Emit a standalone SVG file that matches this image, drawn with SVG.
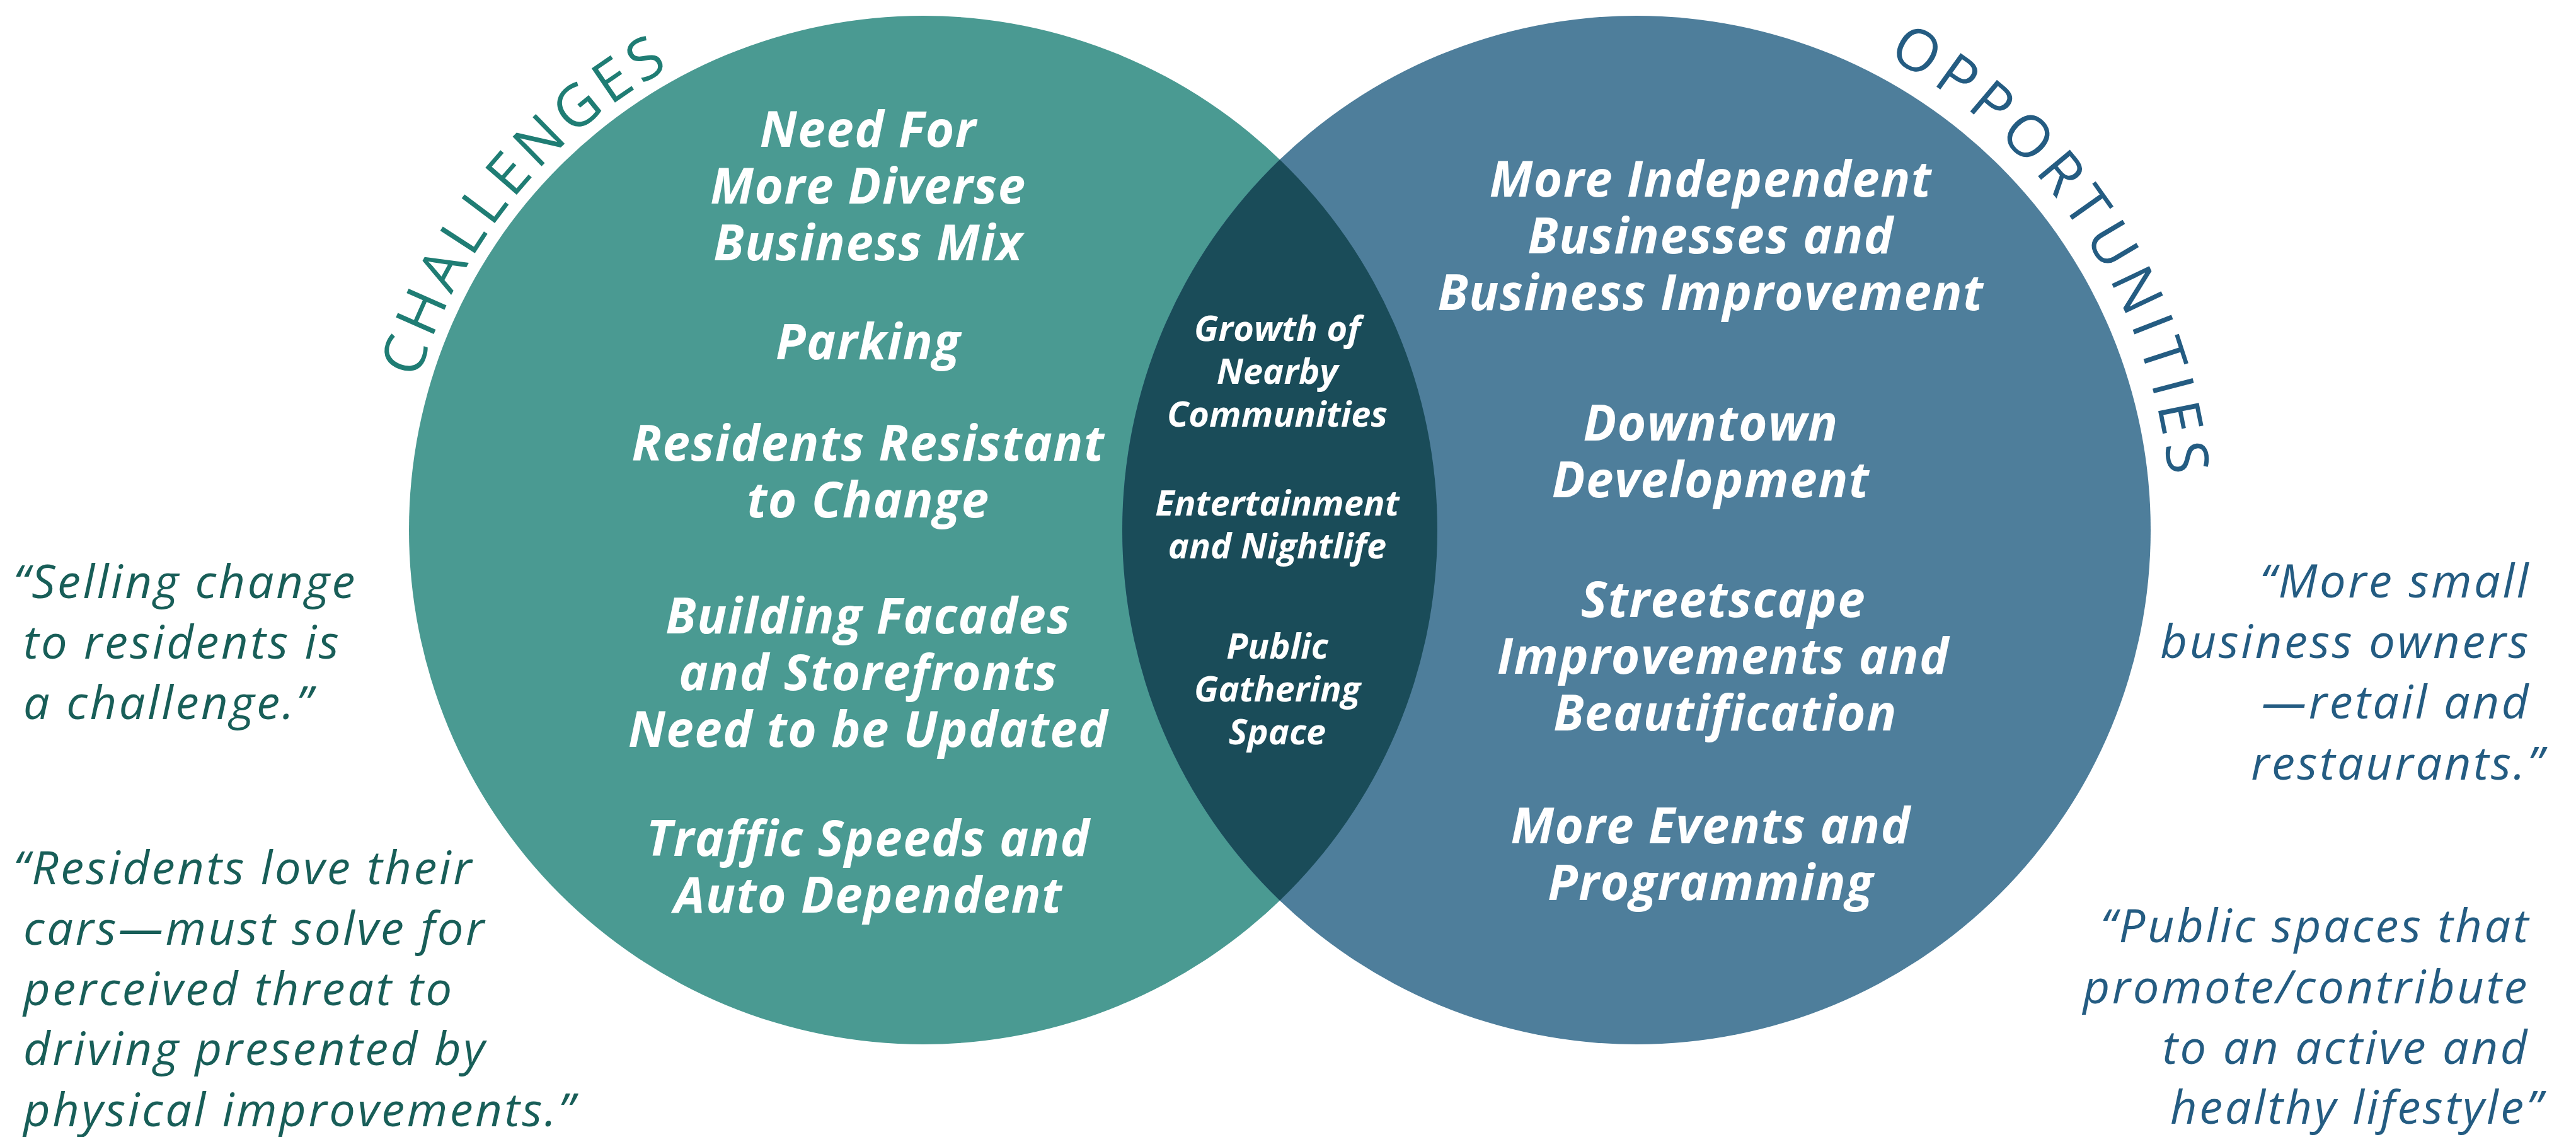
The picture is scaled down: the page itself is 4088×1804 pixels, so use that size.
<svg xmlns="http://www.w3.org/2000/svg" width="4088" height="1804" viewBox="0 0 4088 1804">
  <defs>
    <style>
      .main { font-family: "Open Sans", "Noto Sans", sans-serif; font-style: italic; font-weight: 700; font-size: 78px; letter-spacing: 1.5px; fill: #ffffff; text-anchor: middle; }
      .lens { font-family: "Open Sans", "Noto Sans", sans-serif; font-style: italic; font-weight: 700; font-size: 56px; fill: #ffffff; text-anchor: middle; }
      .quote { font-family: "Open Sans", "Noto Sans", sans-serif; font-style: italic; font-weight: 400; font-size: 74px; letter-spacing: 3.6px; }
      .q-left { fill: #185e58; }
      .q-right { fill: #245c82; text-anchor: end; }
      .arc-title { font-family: "Open Sans", "Noto Sans", sans-serif; font-weight: 400; font-size: 92px; }
    </style>
    <!-- baselines for the curved headings, concentric with each circle -->
    <path id="arc-challenges" d="M683.5,1137.9 A836,836 0 0 1 1598.7,15.8" fill="none"/>
    <path id="arc-opportunities" d="M2543.7,-6.3 A849,849 0 0 1 3357.5,1218.5" fill="none"/>
  </defs>

  <rect width="4088" height="1804" fill="#ffffff"/>

  <!-- Challenges circle -->
  <g id="challenges">
    <circle cx="1465" cy="841" r="816" fill="#4a9a92"/>
  </g>

  <!-- Opportunities circle -->
  <g id="opportunities">
    <circle cx="2597" cy="841" r="816" fill="#4e7e9b"/>
  </g>

  <!-- Shared region of the two circles -->
  <g id="overlap">
    <path d="M2031,253.2 A816,816 0 0 1 2031,1428.8 A816,816 0 0 1 2031,253.2 Z" fill="#1a4c59"/>
  </g>

  <!-- Curved headings -->
  <g id="heading-challenges">
    <text class="arc-title" fill="#1f7d74" letter-spacing="9"><textPath href="#arc-challenges" startOffset="50%" text-anchor="middle">CHALLENGES</textPath></text>
  </g>
  <g id="heading-opportunities">
    <text class="arc-title" fill="#245c82" letter-spacing="11"><textPath href="#arc-opportunities" startOffset="50%" text-anchor="middle">OPPORTUNITIES</textPath></text>
  </g>

  <!-- Challenge items -->
  <g id="challenge-items" class="main">
    <text x="1378" y="233">Need For</text>
    <text x="1378" y="323">More Diverse</text>
    <text x="1378" y="413">Business Mix</text>
    <text x="1378" y="570">Parking</text>
    <text x="1378" y="731">Residents Resistant</text>
    <text x="1378" y="821">to Change</text>
    <text x="1378" y="1005">Building Facades</text>
    <text x="1378" y="1095">and Storefronts</text>
    <text x="1378" y="1185">Need to be Updated</text>
    <text x="1378" y="1358">Traffic Speeds and</text>
    <text x="1378" y="1448">Auto Dependent</text>
  </g>

  <!-- Shared items -->
  <g id="shared-items" class="lens">
    <text x="2027" y="541">Growth of</text>
    <text x="2027" y="609">Nearby</text>
    <text x="2027" y="677">Communities</text>
    <text x="2027" y="818">Entertainment</text>
    <text x="2027" y="886">and Nightlife</text>
    <text x="2027" y="1045">Public</text>
    <text x="2027" y="1113">Gathering</text>
    <text x="2027" y="1181">Space</text>
  </g>

  <!-- Opportunity items -->
  <g id="opportunity-items" class="main">
    <text x="2715" y="312">More Independent</text>
    <text x="2715" y="402">Businesses and</text>
    <text x="2715" y="492">Business Improvement</text>
    <text x="2715" y="699">Downtown</text>
    <text x="2715" y="789">Development</text>
    <text x="2735" y="979">Streetscape</text>
    <text x="2735" y="1069">Improvements and</text>
    <text x="2738" y="1159">Beautification</text>
    <text x="2715" y="1338">More Events and</text>
    <text x="2715" y="1428">Programming</text>
  </g>

  <!-- Quotes on the challenges side -->
  <g id="quotes-challenges" class="quote q-left">
    <text x="21" y="949">“Selling change</text>
    <text x="37" y="1045">to residents is</text>
    <text x="37" y="1141">a challenge.”</text>
    <text x="21" y="1403">“Residents love their</text>
    <text x="37" y="1499">cars—must solve for</text>
    <text x="37" y="1595">perceived threat to</text>
    <text x="37" y="1690">driving presented by</text>
    <text x="37" y="1787">physical improvements.”</text>
  </g>

  <!-- Quotes on the opportunities side -->
  <g id="quotes-opportunities" class="quote q-right">
    <text x="4016" y="948">“More small</text>
    <text x="4016" y="1044">business owners</text>
    <text x="4016" y="1140">—retail and</text>
    <text x="4040" y="1237">restaurants.”</text>
    <text x="4016" y="1495">“Public spaces that</text>
    <text x="4014" y="1592">promote/contribute</text>
    <text x="4014" y="1688">to an active and</text>
    <text x="4038" y="1783">healthy lifestyle”</text>
  </g>
</svg>
